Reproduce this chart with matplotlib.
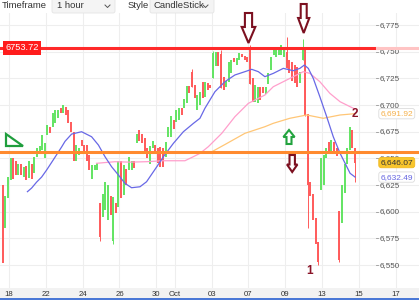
import matplotlib
matplotlib.use("Agg")
import matplotlib.pyplot as plt
from matplotlib.patches import Polygon, Rectangle, FancyBboxPatch

plt.rcParams['font.family'] = ['Liberation Sans', 'DejaVu Sans']

# hourly candles, oldest first
opens = [6625, 6585, 6613, 6630, 6650, 6648, 6634, 6645, 6633, 6643,
         6632, 6645, 6636, 6651, 6655, 6658, 6650, 6672, 6679, 6679,
         6683, 6688, 6697, 6693, 6698, 6695, 6684, 6675, 6648, 6653,
         6667, 6663, 6663, 6653, 6631, 6639, 6639, 6608, 6595, 6602,
         6592, 6615, 6573, 6608, 6604, 6648, 6616, 6640, 6639, 6639,
         6648, 6664, 6677, 6673, 6669, 6660, 6645, 6660, 6663, 6660,
         6661, 6660, 6651, 6670, 6670, 6686, 6684, 6686, 6697, 6697,
         6702, 6718, 6731, 6719, 6695, 6700, 6722, 6708, 6721, 6719,
         6725, 6737, 6750, 6748, 6726, 6717, 6722, 6730, 6744, 6738,
         6742, 6748, 6746, 6745, 6754, 6725, 6703, 6702, 6717, 6717,
         6710, 6720, 6733, 6747, 6745, 6747, 6747, 6745, 6750, 6742,
         6740, 6738, 6736, 6721, 6742, 6752, 6692, 6628, 6617, 6594,
         6572, 6620, 6625, 6650, 6665, 6655, 6665, 6660, 6601, 6589,
         6618, 6645, 6658, 6677, 6660]
closes = [6552, 6615, 6633, 6650, 6631, 6634, 6645, 6634, 6642, 6630,
          6648, 6631, 6651, 6660, 6662, 6672, 6664, 6681, 6674, 6693,
          6695, 6695, 6693, 6700, 6691, 6683, 6675, 6648, 6663, 6660,
          6662, 6655, 6648, 6639, 6644, 6644, 6646, 6576, 6617, 6628,
          6625, 6597, 6614, 6599, 6648, 6613, 6644, 6625, 6651, 6648,
          6641, 6673, 6666, 6664, 6656, 6650, 6662, 6666, 6657, 6646,
          6642, 6642, 6665, 6679, 6690, 6678, 6695, 6697, 6691, 6706,
          6718, 6711, 6717, 6707, 6709, 6712, 6707, 6722, 6714, 6716,
          6749, 6750, 6737, 6716, 6714, 6723, 6740, 6742, 6740, 6744,
          6749, 6745, 6742, 6740, 6720, 6703, 6719, 6717, 6705, 6711,
          6717, 6730, 6745, 6754, 6753, 6753, 6756, 6754, 6735, 6730,
          6723, 6721, 6717, 6731, 6752, 6690, 6625, 6615, 6592, 6570,
          6553, 6650, 6653, 6660, 6655, 6667, 6655, 6652, 6555, 6625,
          6645, 6660, 6679, 6660, 6646.07]
wick_hi = {72: 6734, 80: 6751, 83: 6752, 94: 6756, 108: 6764, 114: 6762, 115: 6754}
wick_lo = {37: 6573, 42: 6570, 116: 6585, 120: 6550, 128: 6553, 134: 6628}

# moving averages (candle index, price)
blue_x = [9.4, 11.0, 12.9, 14.8, 16.7, 19.2, 22.4, 23.7, 26.2, 30.0, 33.8, 36.4,
          38.9, 41.4, 44.0, 46.5, 49.0, 52.2, 54.7, 58.6, 61.1, 64.9, 68.7, 72.5,
          75.0, 76.9, 80.7, 84.5, 88.3, 92.1, 94.7, 97.2, 99.7, 102.9, 106.7, 110.5,
          113.0, 114.7, 116.2, 118.1, 120.6, 123.2, 125.7, 128.3, 130.2, 132.1, 134.0]
blue_y = [6618.8, 6622.2, 6627.8, 6632.5, 6639.1, 6648.5, 6660.7, 6666.0, 6672.8, 6675.0,
          6670.3, 6662.5, 6651.6, 6642.2, 6634.4, 6626.6, 6622.5, 6623.4, 6628.1, 6642.2,
          6651.6, 6664.1, 6675.0, 6682.8, 6687.6, 6697.0, 6712.5, 6721.9, 6728.2, 6731.3,
          6733.5, 6731.3, 6726.6, 6729.7, 6734.4, 6732.2, 6734.4, 6737.5, 6734.4, 6725.0,
          6707.8, 6689.1, 6670.3, 6654.7, 6645.4, 6636.0, 6632.49]
pink_x = [35.7, 42.7, 48.4, 54.7, 61.1, 69.3, 72.5, 75.0, 78.2, 83.3, 88.3, 93.4,
          99.7, 102.9, 109.2, 114.3, 116.8, 120.6, 124.4, 128.3, 133.3, 134.0]
pink_y = [6645.4, 6646.9, 6646.5, 6646.9, 6647.8, 6647.8, 6651.6, 6654.7, 6661.0, 6673.5,
          6689.1, 6701.6, 6709.4, 6717.2, 6725.0, 6731.3, 6729.7, 6721.9, 6711.0, 6703.1,
          6697.0, 6696.0]
orange_x = [79.5, 84.5, 92.1, 99.7, 102.9, 109.2, 115.6, 121.9, 128.3, 134.0]
orange_y = [6656.2, 6663.0, 6673.5, 6679.7, 6682.9, 6687.6, 6690.7, 6687.6, 6690.7, 6691.92]

resistance = 6753.72
support = 6656.0
last_price = 6646.07
ma_slow_last = 6691.92
ma_fast_last = 6632.49

tick_days = [0, 2, 4, 6, 8, 9, 11, 13, 15, 17, 19, 21]
tick_labels = ['18', '22', '24', '26', '30', 'Oct', '03', '07', '09', '13', '15', '17']
price_ticks = [6550, 6575, 6600, 6625, 6650, 6675, 6700, 6725, 6750, 6775]

GREEN = '#62e462'
RED = '#ff5a5a'


def main():
    fig = plt.figure(figsize=(4.19, 3.0), dpi=100)
    ax = fig.add_axes([0, 12 / 300, 1, 275 / 300])
    ax.set_xlim(-1.03, 158.3)
    ax.set_ylim(6528.5, 6786.3)
    for s in ax.spines.values():
        s.set_visible(False)

    # grid
    ax.set_yticks(price_ticks)
    ax.set_xticks([7 * d + 2.4 for d in tick_days])
    ax.set_xticklabels(tick_labels)
    ax.grid(True, color='#eeeeee', lw=0.8)
    ax.set_axisbelow(True)
    ax.tick_params(axis='y', length=0, labelleft=False)
    ax.tick_params(axis='x', length=0, pad=1.8, labelsize=5.6, colors='#333333')

    ytr = ax.get_yaxis_transform()
    for p in price_ticks:
        ax.text(0.906, p, '{:,}'.format(p), transform=ytr, fontsize=5.8,
                color='#555555', va='center', ha='left', zorder=2)
        ax.plot([0.897, 0.903], [p, p], transform=ytr, color='#999999', lw=0.6)

    # candles
    for i, (o, c) in enumerate(zip(opens, closes)):
        col = GREEN if c >= o else RED
        if i in wick_hi or i in wick_lo:
            hi = wick_hi.get(i, max(o, c))
            lo = wick_lo.get(i, min(o, c))
            ax.vlines(i, lo, hi, color=col, lw=0.7, zorder=3)
        ax.vlines(i, min(o, c), max(o, c), color=col, lw=1.4, zorder=3)

    # moving averages
    ax.plot(orange_x, orange_y, color='#ffc676', lw=0.9, zorder=4)
    ax.plot(pink_x, pink_y, color='#ff9fcc', lw=0.9, zorder=4)
    ax.plot(blue_x, blue_y, color='#6868e6', lw=0.9, zorder=4)

    # horizontal levels
    ax.plot([0, 0.9], [resistance, resistance], transform=ytr, color='#ff2a2a', lw=2.2, zorder=5)
    ax.plot([0.9, 1], [resistance, resistance], transform=ytr, color='#ffc4c4', lw=2.2, zorder=5)
    ax.plot([0, 1], [support, support], transform=ytr, color='#ff8a2e', lw=2.2, zorder=5)

    # price labels
    ax.text(0.012, resistance, '6753.72', transform=ytr, fontsize=6.7, color='white',
            va='center', ha='left', zorder=7,
            bbox=dict(boxstyle='square,pad=0.25', fc='#ff1c1c', ec='none'))
    ax.text(0.908, ma_slow_last, '{:,.2f}'.format(ma_slow_last), transform=ytr, fontsize=6,
            color='#f5b04a', va='center', ha='left', zorder=7,
            bbox=dict(boxstyle='round,pad=0.2,rounding_size=0.3', fc='white', ec='#dcdcdc', lw=0.6))
    ax.text(0.908, last_price, '{:,.2f}'.format(last_price), transform=ytr, fontsize=6,
            color='#333333', va='center', ha='left', zorder=7,
            bbox=dict(boxstyle='round,pad=0.2,rounding_size=0.3', fc='#f8c52c', ec='#f0b820', lw=0.6))
    ax.text(0.908, ma_fast_last, '{:,.2f}'.format(ma_fast_last), transform=ytr, fontsize=6,
            color='#6464e0', va='center', ha='left', zorder=7,
            bbox=dict(boxstyle='round,pad=0.2,rounding_size=0.3', fc='white', ec='#dcdcdc', lw=0.6))

    # point markers
    ax.text(116.8, 6544, '1', fontsize=8.5, fontweight='bold', color='#8a1428',
            ha='center', va='center', zorder=8)
    ax.text(133.8, 6692, '2', fontsize=8.5, fontweight='bold', color='#8a1428',
            ha='center', va='center', zorder=8)

    # x-axis band and bottom line
    fig.add_artist(Rectangle((0, 2 / 300), 1, 10 / 300, transform=fig.transFigure,
                             fc='#f2f2f2', ec='none', zorder=-1))
    fig.add_artist(Rectangle((0, 0), 1, 2 / 300, transform=fig.transFigure,
                             fc='#4a78d6', ec='none', zorder=-1))

    # overlay in pixel coordinates for toolbar and drawings
    ov = fig.add_axes([0, 0, 1, 1], zorder=5)
    ov.set_xlim(0, 419)
    ov.set_ylim(300, 0)
    ov.axis('off')
    ov.patch.set_alpha(0)

    ov.text(2, 6, 'Timeframe', fontsize=6.8, color='#333333', va='center')
    ov.add_patch(FancyBboxPatch((52, -3), 63, 16, boxstyle='round,pad=0,rounding_size=2',
                                fc='#f4f4f4', ec='#e4e4e4', lw=0.6))
    ov.text(57, 6, '1 hour', fontsize=6.8, color='#333333', va='center')
    ov.plot([105, 107.5, 110], [5, 7.5, 5], color='#555555', lw=0.7)
    ov.text(128, 6, 'Style', fontsize=6.8, color='#333333', va='center')
    ov.add_patch(FancyBboxPatch((150, -3), 64, 16, boxstyle='round,pad=0,rounding_size=2',
                                fc='#f4f4f4', ec='#e4e4e4', lw=0.6))
    ov.text(153, 6, 'CandleStick', fontsize=6.8, color='#333333', va='center')
    ov.plot([203, 205.5, 208], [5, 7.5, 5], color='#555555', lw=0.7)

    def arrow(cx, top, bottom, sw, hw, hl, color, down=True):
        if down:
            pts = [(cx - sw, top), (cx + sw, top), (cx + sw, bottom - hl), (cx + hw, bottom - hl),
                   (cx, bottom), (cx - hw, bottom - hl), (cx - sw, bottom - hl)]
        else:
            pts = [(cx - sw, bottom), (cx + sw, bottom), (cx + sw, top + hl), (cx + hw, top + hl),
                   (cx, top), (cx - hw, top + hl), (cx - sw, top + hl)]
        ov.add_patch(Polygon(pts, closed=True, fc='white', ec=color, lw=1.5, joinstyle='miter'))

    arrow(248.5, 13, 43, 3.6, 6.8, 16, '#7c1020')
    arrow(303.7, 4, 33, 3.0, 5.6, 15, '#7c1020')
    arrow(289, 130, 144, 2.5, 5.6, 7, '#22a33e', down=False)
    arrow(292.2, 155, 172, 2.7, 5.2, 7.5, '#7c1020')

    ov.add_patch(Polygon([(6, 134), (6, 146), (23, 146)], closed=True, fc='white',
                         ec='#1f9e3d', lw=1.6, joinstyle='miter'))

    fig.savefig('out.png', dpi=100)


if __name__ == '__main__':
    main()
